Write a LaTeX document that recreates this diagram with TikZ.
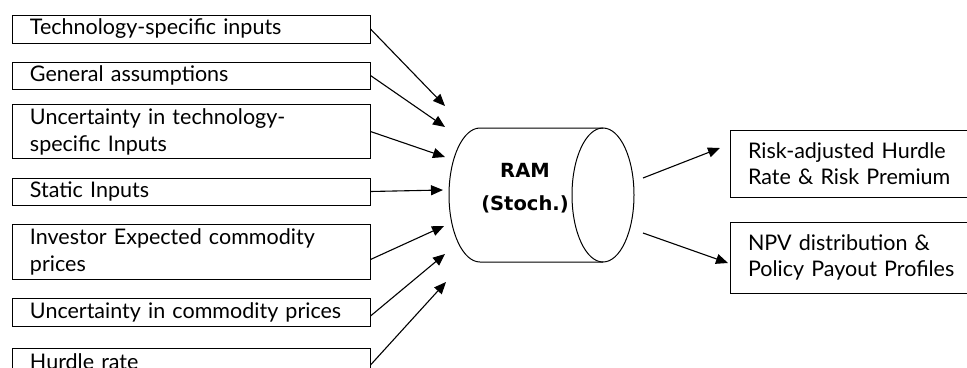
\documentclass[tikz,border=0pt]{standalone}
\usepackage{fontspec}
\setmainfont{Lato}
\newfontfamily\ramfont{DejaVu Sans}
\usetikzlibrary{arrows.meta}

\begin{document}
\begin{tikzpicture}[x=1pt,y=-1pt,
    inbox/.style={draw,line width=1pt,rectangle,minimum width=358pt,inner xsep=18pt,
      text width=322pt,align=left,font=\fontsize{21.5}{27}\selectfont},
    outbox/.style={draw,line width=1pt,rectangle,minimum width=260pt,inner xsep=18pt,
      text width=224pt,align=left,font=\fontsize{21.5}{26}\selectfont},
    arr/.style={-{Triangle[length=12pt,width=10pt]},line width=1.1pt}]

\clip (0,0) rectangle (967,367);

% inputs
\node[inbox,minimum height=28pt] (b1) at (191,29) {Technology-specific inputs};
\node[inbox,minimum height=27pt] (b2) at (191,75.5) {General assumptions};
\node[inbox,minimum height=51pt] (b3) at (191,131.5) {Uncertainty in technology-\\specific Inputs};
\node[inbox,minimum height=27pt] (b4) at (191,191.5) {Static Inputs};
\node[inbox,minimum height=55pt] (b5) at (191,251.5) {Investor Expected commodity\\prices};
\node[inbox,minimum height=28pt] (b6) at (191,312) {Uncertainty in commodity prices};
\node[inbox,minimum height=28pt] (b7) at (191,362) {Hurdle rate};

% RAM cylinder
\draw[line width=1pt] (603,128) -- (480,128) arc[start angle=270,end angle=90,x radius=31,y radius=67]
  -- (603,262);
\draw[line width=1pt] (603,195) ellipse[x radius=31,y radius=67];
\node[font=\ramfont\bfseries\fontsize{19.5}{33}\selectfont,align=center] (ram) at (525,188) {RAM\\(Stoch.)};

% outputs
\node[outbox,minimum height=67pt] (o1) at (860,163.5) {Risk-adjusted Hurdle\\Rate \& Risk Premium};
\node[outbox,minimum height=71pt] (o2) at (860,257.5) {NPV distribution \&\\Policy Payout Profiles};

% arrow ends
\coordinate (e1) at (445,106);
\coordinate (e2) at (445,127);
\coordinate (e3) at (445,157);
\coordinate (e4) at (443,190);
\coordinate (e5) at (444,226);
\coordinate (e6) at (445,254);
\coordinate (e7) at (446,282);
\coordinate (s1) at (643,178);
\coordinate (s2) at (643,233);
\coordinate (t1) at (720,148);
\coordinate (t2) at (728,263);

\draw[arr] (b1.east) -- (e1);
\draw[arr] (b2.east) -- (e2);
\draw[arr] (b3.east) -- (e3);
\draw[arr] (b4.east) -- (e4);
\draw[arr] ([yshift=-8pt]b5.east) -- (e5);
\draw[arr] ([yshift=-4pt]b6.east) -- (e6);
\draw[arr] ([yshift=-3pt]b7.east) -- (e7);

\draw[arr] (s1) -- (t1);
\draw[arr] (s2) -- (t2);

\end{tikzpicture}
\end{document}
